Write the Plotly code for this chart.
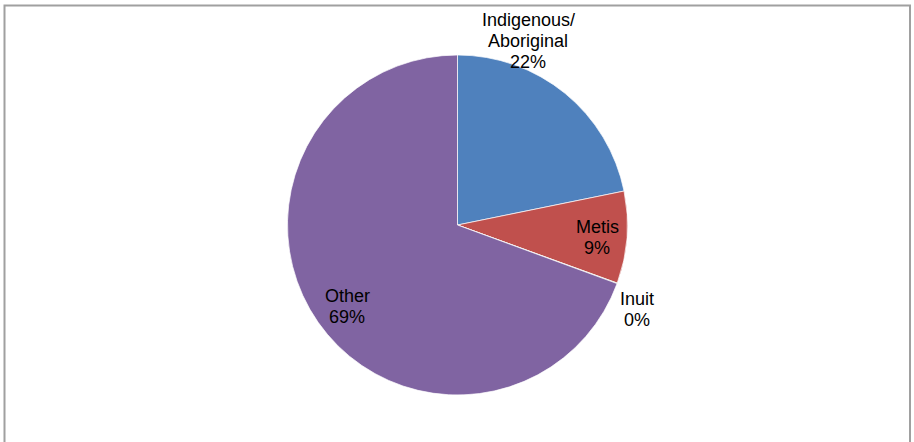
import plotly.graph_objects as go

# Data
categories = ["Indigenous/<br>Aboriginal", "Metis", "Inuit", "Other"]
values = [21.8, 8.75, 0.05, 69.4]
colors = ["#4F81BD", "#C0504D", "#9BBB59", "#8064A2"]

W, H = 914, 442
cx, cy, r = 457.5, 225, 170

# label anchor (pixel center of first line) for each category
label_pos = [(528, 20), (597, 227), (637, 299), (347, 296)]
line_gap = 21

fig = go.Figure(go.Pie(
    labels=categories,
    values=values,
    sort=False,
    direction="clockwise",
    rotation=0,
    marker=dict(colors=colors, line=dict(color="white", width=0.7)),
    textinfo="none",
    hoverinfo="label+percent",
    showlegend=False,
    domain=dict(x=[(cx - r) / W, (cx + r) / W], y=[(H - cy - r) / H, (H - cy + r) / H]),
))

total = sum(values)
annotations = []
for cat, v, (px, py) in zip(categories, values, label_pos):
    lines = cat.split("<br>") + [f"{round(100 * v / total):.0f}%"]
    for k, t in enumerate(lines):
        annotations.append(dict(
            x=px / W, y=1 - (py + k * line_gap) / H, xref="paper", yref="paper",
            text=t, showarrow=False, xanchor="center", yanchor="middle",
            font=dict(family="Liberation Sans, Arial, sans-serif", size=18, color="#000000"),
        ))

fig.update_layout(
    width=W, height=H,
    margin=dict(l=0, r=0, t=0, b=0),
    paper_bgcolor="white", plot_bgcolor="white",
    annotations=annotations,
    shapes=[dict(type="rect", xref="paper", yref="paper",
                 x0=4.5 / W, x1=910 / W, y0=-0.05, y1=1 - 5.5 / H,
                 line=dict(color="#A0A0A0", width=2), fillcolor="rgba(0,0,0,0)")],
)

fig.write_html("out.html", config={"displayModeBar": False},
               post_script="document.body.style.margin='0';document.body.style.overflow='hidden';")
